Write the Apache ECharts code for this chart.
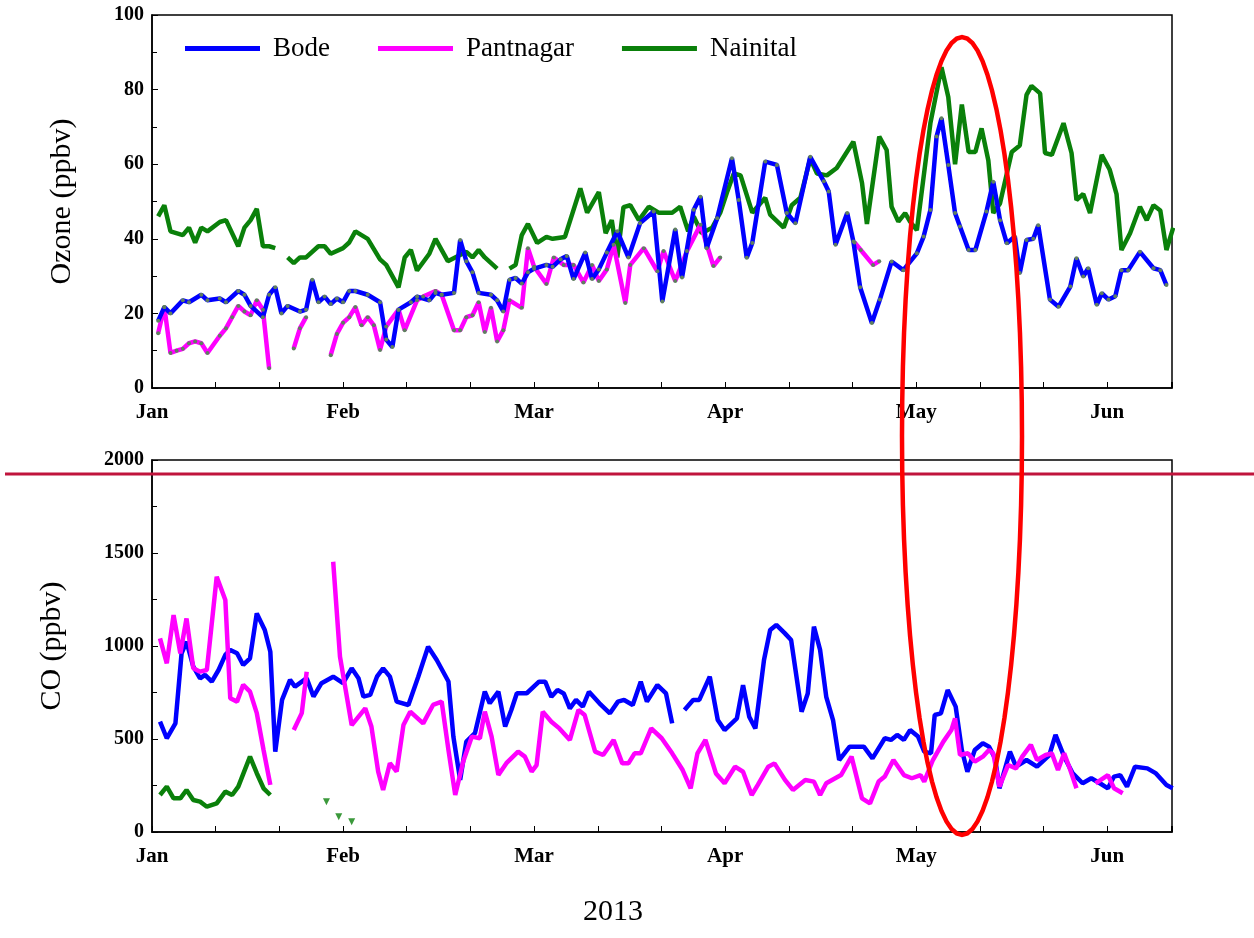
<!DOCTYPE html>
<html><head><meta charset="utf-8">
<script src="https://cdn.jsdelivr.net/npm/echarts@6/dist/echarts.min.js"></script>
<style>html,body{margin:0;padding:0;background:#fff}#c{width:1254px;height:938px}</style>
</head><body><div id="c"></div>
<script>
const monthLabels = ['Jan','Feb','Mar','Apr','May','Jun'];
// x = day index (each month drawn as 31 units)
const bodeO3 = [[1,18],[2,21.7],[3,20],[5,23.5],[6,23],[8,25],[9,23.5],[11,24],[12,23],[14,26],[15,25],[16,22],[18,19],[19,25],[20,27],[21,20],[22,22],[24,20.5],[25,21],[26,29],[27,23],[28,24.5],[29,22.5],[30,24],[31,23],[32,26],[33,26],[35,25],[37,23],[38,13],[39,11],[40,21],[42,23],[43,24.5],[45,23.5],[46,25.5],[47,25],[49,25.5],[50,39.7],[51,34],[52,31],[53,25.5],[55,25],[56,23.5],[57,20.5],[58,29],[59,29.5],[60,28],[61,31],[62,32],[64,33],[65,32.5],[66.3,34.5],[67.3,35.4],[68.4,29.2],[70.3,36.3],[71.4,29.2],[72.5,31.8],[73.8,36.3],[75.5,42],[77.3,35],[79.2,44.2],[81.4,47.3],[82.8,23.2],[84.9,42.5],[86,29.6],[87.9,47.8],[89,51.3],[90,37.5],[91.7,45.5],[94.1,61.6],[95.2,50.4],[96.5,34.9],[97.4,38.9],[99.5,60.7],[101.4,59.8],[103,46.9],[104.4,44.2],[106.8,62],[109,55.4],[109.8,52.7],[110.9,38.4],[112.8,46.9],[113.8,39.3],[114.9,27],[116.8,17.4],[118.1,23.7],[120,33.9],[121.9,31.6],[124.1,36.1],[125.2,40.6],[126.3,47.7],[127.3,67.4],[128.1,72.3],[129.2,59.8],[130.3,46.9],[131.1,43.3],[132.5,37],[133.6,37],[135.4,47.3],[136.5,55.3],[137.6,45],[138.7,38.8],[140,40.6],[140.8,30.8],[141.9,39.7],[143,40],[143.8,43.6],[145.7,23.7],[147.1,21.8],[149,27.2],[150,34.8],[151.1,29.9],[151.9,32.1],[153.3,22.3],[154.1,25.4],[155.2,23.7],[156.3,24.6],[157.3,31.6],[158.4,31.6],[160.3,36.5],[162.5,32.1],[163.6,31.6],[164.6,27.6]];
const pantO3 = [[1,14.7],[2,21.7],[3,9.4],[4,10],[5,10.5],[6,12],[7,12.5],[8,12],[9,9.4],[11,14],[12,16],[13,19],[14,22],[15,20.5],[16,19.5],[17,23.5],[18,21],[19,5.3],[20,'-'],[23,10.6],[24,16],[25,19],[26,'-'],[29,8.8],[30,14.5],[31,17.5],[32,19],[33,21.7],[34,16.8],[35,19],[36,16.8],[37,10.2],[38,16.5],[40,21],[41,15.5],[43,23.5],[44,24.5],[46,26],[47,25],[49,15.5],[50,15.5],[51,19],[52,19.5],[53,23],[54,15],[55,21.5],[56,12.5],[57,15.5],[58,23.5],[60,21.5],[61,37.5],[62,32.5],[64,27.9],[65.2,35],[66.8,33],[68.4,33],[70,28.3],[71.4,33],[72.5,28.7],[73.8,31.8],[74.9,38.4],[76.8,22.8],[77.6,33],[79.8,37.5],[82,31.3],[83,36.7],[84.9,28.7],[86.8,36.7],[89,43.8],[91.1,32.7],[92.2,35],[93,'-'],[114,39],[115,37],[117,33],[118,34]];
const naiO3 = [[1,46],[2,49],[3,42],[5,41],[6,43],[7,39],[8,43],[9,42],[11,44.5],[12,45],[14,38],[15,43],[16,45],[17,48],[18,38],[19,38],[20,37.5],[21,'-'],[22,35],[23,33.5],[24,35],[25,35],[27,38],[28,38],[29,36],[31,37.5],[32,39],[33,42],[35,40],[37,34.5],[38,33],[40,27],[41,35],[42,37],[43,31.5],[45,36],[46,40],[48,34],[51,36.5],[52,35],[53,37],[54,35],[56,32],[57,'-'],[58,32],[59,33],[60,41],[61,44],[62.5,38.9],[64,40.5],[65,40],[67,40.5],[69.5,53.5],[70.6,47],[72.5,52.5],[73.6,41.5],[74.6,45],[75.5,35],[76.5,48.5],[77.6,49],[79,45],[80.6,48.6],[82.2,47],[84.4,47],[85.7,48.6],[87,42],[87.9,46],[89.2,41.5],[90.9,43],[92.2,47],[93.3,52.5],[94.4,57.5],[95.5,57],[97.4,47],[99.5,51],[100.3,46.5],[102.5,43],[103.8,49],[105.2,51],[106.8,61.5],[107.9,57.5],[109.5,57],[111.1,59],[113.8,66],[115.2,55],[116,44],[118,67.4],[119.2,63.8],[120,48.6],[121.1,44.6],[122.2,46.9],[123,44.6],[124.1,42.3],[126.3,71],[128.1,86],[129.2,78],[130.3,60],[131.4,76],[132.5,63.3],[133.6,63.3],[134.6,69.6],[135.7,61],[136.5,46.9],[137.6,49.5],[139.5,63.3],[140.8,65],[141.9,78.6],[142.7,81],[144.1,79],[144.9,63],[146,62.5],[147.9,71],[149.2,63],[150,50.4],[151.1,52],[152.2,46.9],[154.1,62.5],[155.4,58.5],[156.5,52],[157.3,37],[158.7,41.5],[160.3,48.6],[161.4,45],[162.5,49],[163.6,47.6],[164.6,37],[165.7,43]];
const bodeCO = [[1.3,593],[2.4,504],[3.8,584],[4.8,961],[5.6,1023],[6.7,889],[7.8,826],[8.6,845],[9.7,809],[10.8,871],[11.9,952],[12.7,979],[13.8,961],[14.8,898],[15.9,934],[17,1175],[18.3,1086],[19.2,969],[20,432],[21.1,710],[22.4,818],[23.2,782],[25.1,827],[26.2,728],[27.5,800],[29.4,835],[31,800],[32.4,880],[33.5,827],[34.3,728],[35.4,737],[36.5,835],[37.5,880],[38.6,835],[39.7,701],[41.6,683],[43.2,835],[44.8,996],[46.2,925],[48.1,809],[48.9,513],[50,280],[51,486],[52.4,531],[54,755],[54.8,692],[56.2,755],[57.3,567],[58.3,656],[59.2,746],[60.8,746],[62.8,808],[63.8,808],[64.8,727],[65.8,763],[66.8,745],[67.8,665],[68.8,710],[69.9,674],[70.9,754],[72.6,692],[74.3,638],[75.6,701],[76.6,710],[78,683],[79.3,808],[80.3,701],[82,790],[83.4,745],[84.4,584],[85.4,'-'],[86.4,656],[87.8,710],[88.8,710],[90.5,835],[91.8,602],[92.9,548],[94.9,611],[95.9,790],[96.9,620],[97.9,557],[99.3,925],[100.3,1086],[101.3,1113],[102.7,1068],[103.7,1032],[105.4,647],[106.4,745],[107.4,1104],[108.4,979],[109.4,727],[110.5,602],[111.5,387],[113.2,459],[115.5,459],[116.9,396],[118.9,504],[119.9,495],[120.9,522],[122,495],[123,548],[124.3,513],[125.3,432],[126.4,423],[127,629],[128,638],[129.1,763],[130.4,674],[131.4,441],[132.3,324],[133.5,441],[134.8,477],[135.8,459],[136.8,396],[137.5,235],[139.2,432],[140.2,351],[141.9,387],[143.6,351],[145.6,414],[146.6,522],[148,405],[149.4,315],[151,262],[152.4,289],[153.8,262],[155.1,235],[156.1,298],[157.1,306],[158.2,244],[159.5,351],[161.5,342],[162.9,315],[164.6,253],[165.6,235]];
const pantCO = [[1.3,1041],[2.4,907],[3.5,1166],[4.6,961],[5.6,1148],[6.7,880],[7.8,862],[8.9,871],[10.5,1372],[11.9,1247],[12.7,719],[13.8,701],[14.8,791],[15.9,755],[17,639],[18.1,441],[19.2,253],[20,'-'],[23,548],[24.3,639],[25.1,862],[26,'-'],[29.4,1453],[30.5,943],[32.4,575],[34.6,665],[35.6,567],[36.7,325],[37.5,226],[38.6,370],[39.7,325],[40.8,575],[41.9,647],[44,584],[45.6,683],[47,701],[48.1,441],[49.2,199],[50.5,379],[51.9,513],[53.2,504],[54,647],[55.1,513],[56.2,307],[57.5,370],[59.4,432],[60.5,405],[61.6,325],[62.4,360],[63.4,647],[64.8,593],[66.1,557],[67.8,495],[69.2,656],[70.2,629],[71.9,432],[73.2,414],[74.9,495],[76.3,369],[77.3,369],[78.3,423],[79.3,423],[81,557],[82.7,504],[84.4,423],[86.1,333],[87.4,235],[88.5,423],[89.8,495],[91.5,315],[92.9,262],[94.6,351],[95.9,324],[97.3,199],[98.3,253],[100,351],[101,369],[102.7,280],[104,226],[106,280],[107.4,271],[108.4,199],[109.4,262],[111.8,306],[113.5,405],[115.2,181],[116.5,154],[117.9,271],[118.9,298],[120.3,387],[122,306],[123.3,289],[124.7,306],[125.3,271],[126.7,387],[128.4,486],[129.7,548],[130.3,611],[131.1,414],[132.4,423],[133.5,378],[134.8,405],[135.8,441],[136.5,423],[137.5,244],[138.9,360],[140.2,342],[141.2,405],[142.6,468],[143.6,387],[145,414],[146,423],[147,333],[148,423],[149,333],[150,235],[151.5,'-'],[153.1,262],[155.1,306],[156.1,235],[157.5,208]];
const naiCO = [[1.3,199],[2.4,244],[3.5,181],[4.6,181],[5.6,226],[6.7,172],[7.8,163],[8.9,136],[10.5,154],[11.9,217],[13,199],[14,244],[15.9,405],[17,316],[18.1,235],[19.2,199]];
const naiCOpts = [[28.3,163],[30.3,82],[32.4,55]];

const BLUE='#0000ff', MAG='#ff00ff', GRN='#0a800a';
const font='Liberation Serif';
const axisLbl={fontFamily:font,fontWeight:'bold',fontSize:20,color:'#000',formatter:v=>String(v)};
function xAxis(gi){return {type:'value',gridIndex:gi,min:0,max:165.5,interval:31,
  axisLine:{lineStyle:{color:'#000',width:1.5}},
  axisTick:{inside:true,length:6,lineStyle:{color:'#000'}},
  minorTick:{show:true,splitNumber:3,length:6,lineStyle:{color:'#000'}},
  splitLine:{show:false},
  axisLabel:{fontFamily:font,fontWeight:'bold',color:'#000',fontSize:21,margin:14,showMaxLabel:false,
    formatter:v=>(v%31===0?monthLabels[v/31]:'')}};}
const sym={symbol:'circle',symbolSize:4,showSymbol:true,itemStyle:{color:'#5f7f5f'}};
// red annotation ellipse outline
const ell=[];for(let i=0;i<=72;i++){const a=i/72*2*Math.PI;ell.push([962+60*Math.cos(a),436+399*Math.sin(a)]);}
const chart=echarts.init(document.getElementById('c'));
chart.setOption({
  animation:false,
  grid:[{left:152,top:15,width:1020,height:373,show:true,borderColor:'#000',borderWidth:1.5},
        {left:152,top:460,width:1020,height:372,show:true,borderColor:'#000',borderWidth:1.5}],
  legend:{left:180,top:30,itemGap:48,itemWidth:75,itemHeight:5,icon:'rect',
    textStyle:{fontFamily:font,fontSize:27,color:'#000',padding:[0,0,0,8]},
    data:[{name:'Bode',itemStyle:{color:BLUE}},{name:'Pantnagar',itemStyle:{color:MAG}},{name:'Nainital',itemStyle:{color:GRN}}]},
  xAxis:[xAxis(0),xAxis(1)],
  yAxis:[{type:'value',gridIndex:0,min:0,max:100,interval:20,name:'Ozone (ppbv)',nameLocation:'middle',nameGap:75,
    nameTextStyle:{fontFamily:font,fontSize:30,color:'#000'},
    axisLine:{lineStyle:{color:'#000',width:1.5}},axisTick:{inside:true,length:6},
    minorTick:{show:true,splitNumber:2,length:5,lineStyle:{color:'#000'}},splitLine:{show:false},axisLabel:axisLbl},
   {type:'value',gridIndex:1,min:0,max:2000,interval:500,name:'CO (ppbv)',nameLocation:'middle',nameGap:85,
    nameTextStyle:{fontFamily:font,fontSize:30,color:'#000'},
    axisLine:{lineStyle:{color:'#000',width:1.5}},axisTick:{inside:true,length:6},
    minorTick:{show:true,splitNumber:2,length:5,lineStyle:{color:'#000'}},splitLine:{show:false},axisLabel:axisLbl}],
  series:[
    {name:'Nainital',type:'line',xAxisIndex:0,yAxisIndex:0,data:naiO3,showSymbol:false,color:GRN,lineStyle:{width:4.5,color:GRN}},
    {name:'Pantnagar',type:'line',xAxisIndex:0,yAxisIndex:0,data:pantO3,...sym,color:MAG,lineStyle:{width:4.5,color:MAG}},
    {name:'Bode',type:'line',xAxisIndex:0,yAxisIndex:0,data:bodeO3,...sym,color:BLUE,lineStyle:{width:4.5,color:BLUE}},
    {name:'Nainital',type:'line',xAxisIndex:1,yAxisIndex:1,data:naiCO,showSymbol:false,color:GRN,lineStyle:{width:4.5,color:GRN}},
    {name:'Nainital',type:'scatter',xAxisIndex:1,yAxisIndex:1,data:naiCOpts,symbol:'triangle',symbolRotate:180,symbolSize:7,itemStyle:{color:GRN}},
    {name:'Bode',type:'line',xAxisIndex:1,yAxisIndex:1,data:bodeCO,showSymbol:false,color:BLUE,lineStyle:{width:4.5,color:BLUE}},
    {name:'Pantnagar',type:'line',xAxisIndex:1,yAxisIndex:1,data:pantCO,showSymbol:false,color:MAG,lineStyle:{width:4.5,color:MAG}}
  ],
  graphic:[
    {type:'text',left:583,top:897,style:{text:'2013',fontFamily:font,fontSize:30,fill:'#000'}},
    {type:'line',shape:{x1:5,y1:474,x2:1254,y2:474},style:{stroke:'#c0143c',lineWidth:3},z:100},
    {type:'polyline',shape:{points:ell},style:{fill:null,stroke:'#ff0000',lineWidth:4.5},z:100}
  ]
});
</script></body></html>
